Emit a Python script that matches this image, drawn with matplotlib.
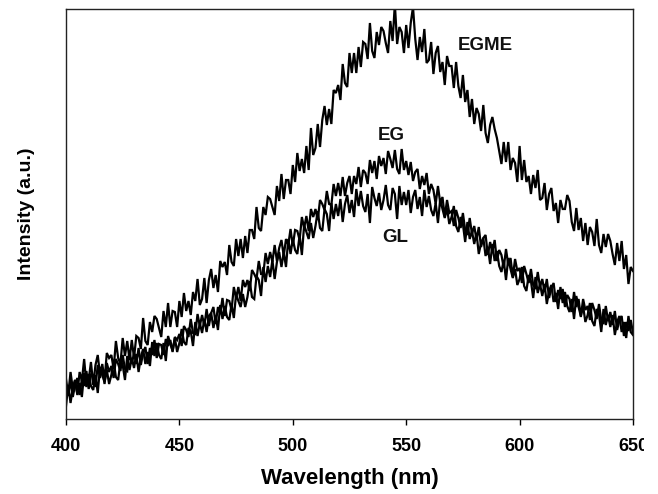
import matplotlib
matplotlib.use("Agg")
import matplotlib.pyplot as plt
from matplotlib.transforms import Bbox, TransformedBbox

plt.rcParams['font.family'] = ['Liberation Sans', 'DejaVu Sans']
plt.rcParams['font.weight'] = 'bold'

# wavelength grid, 400..650 nm in 1 nm steps
wavelength = list(range(400, 651))

egme = [
    40, 24, 47, 30, 39, 25, 47, 38, 60, 34,
    39, 57, 34, 54, 64, 44, 55, 39, 66, 61,
    64, 50, 78, 61, 55, 81, 63, 78, 59, 79,
    61, 83, 81, 70, 101, 78, 74, 97, 87, 103,
    100, 91, 82, 108, 92, 116, 92, 108, 107, 92,
    118, 102, 126, 108, 118, 104, 127, 118, 140, 114,
    120, 141, 116, 139, 150, 131, 144, 127, 158, 152,
    157, 144, 174, 157, 153, 180, 163, 180, 161, 183,
    166, 189, 189, 180, 212, 191, 188, 212, 204, 222,
    220, 212, 204, 233, 218, 245, 220, 239, 239, 225,
    254, 237, 266, 248, 260, 246, 273, 249, 291, 264,
    271, 295, 272, 299, 313, 294, 310, 295, 329, 326,
    334, 319, 355, 336, 332, 366, 346, 366, 346, 372,
    352, 377, 375, 360, 396, 368, 361, 387, 374, 392,
    388, 376, 366, 398, 378, 415, 375, 392, 387, 366,
    394, 371, 396, 412, 380, 359, 382, 367, 390, 356,
    359, 377, 345, 366, 373, 347, 357, 334, 363, 353,
    353, 331, 357, 333, 321, 344, 317, 329, 302, 320,
    295, 311, 305, 288, 314, 286, 276, 294, 302, 290,
    281, 268, 255, 277, 257, 277, 249, 261, 256, 237,
    273, 239, 259, 237, 243, 225, 244, 231, 249, 219,
    221, 236, 209, 225, 231, 208, 216, 196, 219, 210,
    210, 224, 218, 197, 188, 211, 189, 201, 178, 196,
    174, 192, 187, 173, 200, 174, 166, 185, 172, 185,
    178, 165, 154, 176, 158, 178, 150, 164, 135, 152,
    148,
]

eg = [
    34, 23, 39, 22, 34, 41, 24, 40, 33, 48,
    30, 44, 42, 32, 54, 41, 51, 35, 56, 47,
    53, 41, 60, 55, 48, 64, 50, 48, 68, 55,
    66, 55, 71, 54, 66, 72, 55, 71, 64, 79,
    61, 75, 74, 64, 80, 73, 79, 67, 82, 79,
    85, 73, 93, 89, 82, 100, 86, 85, 105, 93,
    104, 93, 110, 93, 106, 112, 95, 112, 105, 121,
    103, 119, 118, 109, 132, 121, 132, 118, 139, 132,
    139, 128, 149, 145, 140, 158, 145, 145, 166, 155,
    167, 157, 174, 158, 171, 179, 163, 180, 174, 190,
    173, 189, 188, 179, 202, 191, 203, 188, 210, 202,
    210, 199, 219, 215, 209, 228, 215, 214, 235, 223,
    236, 223, 242, 223, 236, 243, 225, 243, 235, 252,
    232, 249, 246, 235, 259, 246, 258, 240, 263, 253,
    261, 245, 268, 260, 251, 269, 250, 245, 270, 249,
    258, 244, 257, 238, 247, 250, 230, 243, 234, 246,
    225, 235, 229, 215, 233, 216, 222, 202, 219, 206,
    208, 193, 209, 201, 191, 206, 189, 184, 201, 185,
    193, 179, 192, 172, 181, 184, 164, 177, 167, 179,
    158, 169, 164, 151, 170, 154, 161, 142, 160, 148,
    151, 136, 153, 145, 136, 150, 134, 130, 147, 132,
    140, 127, 140, 121, 131, 136, 117, 129, 120, 130,
    112, 124, 120, 107, 127, 112, 120, 102, 120, 109,
    113, 99, 116, 109, 100, 115, 99, 95, 113, 98,
    107, 94, 108, 89, 99, 103, 83, 97, 88, 99,
    86,
]

gl = [
    13, 34, 16, 31, 39, 24, 36, 22, 46, 32,
    45, 33, 29, 44, 26, 52, 44, 37, 49, 35,
    44, 58, 42, 39, 58, 54, 39, 63, 49, 61,
    51, 65, 47, 62, 70, 55, 67, 53, 77, 63,
    76, 64, 60, 76, 58, 83, 75, 68, 81, 67,
    76, 90, 77, 74, 91, 88, 73, 97, 83, 96,
    86, 100, 87, 103, 106, 91, 103, 89, 114, 100,
    113, 102, 99, 115, 101, 125, 118, 112, 125, 112,
    122, 138, 122, 120, 143, 139, 123, 152, 137, 153,
    142, 159, 140, 157, 167, 152, 167, 152, 180, 165,
    180, 169, 165, 184, 164, 194, 187, 180, 196, 181,
    193, 208, 191, 188, 210, 205, 188, 216, 200, 215,
    203, 220, 197, 215, 224, 206, 219, 202, 230, 213,
    228, 213, 207, 225, 196, 232, 221, 213, 226, 209,
    219, 234, 214, 209, 231, 225, 200, 233, 214, 227,
    214, 229, 206, 222, 229, 210, 222, 203, 229, 212,
    223, 209, 203, 216, 196, 220, 210, 201, 211, 195,
    202, 213, 193, 187, 202, 195, 177, 197, 180, 188,
    175, 186, 165, 176, 181, 163, 172, 155, 175, 158,
    168, 153, 147, 159, 139, 161, 150, 141, 150, 134,
    140, 152, 133, 128, 144, 138, 121, 142, 126, 135,
    123, 135, 115, 128, 134, 117, 126, 110, 132, 116,
    127, 113, 107, 120, 100, 123, 112, 103, 113, 97,
    104, 116, 98, 93, 110, 105, 87, 110, 94, 104,
    92, 104, 84, 97, 103, 87, 97, 81, 103, 87,
    84,
]

series = [egme, eg, gl]
labels = ["EGME", "EG", "GL"]
label_x = [585, 543.5, 545]
label_y = [374, 284, 182]

x_ticks = [400, 450, 500, 550, 600, 650]

fig = plt.figure(figsize=(6.58, 4.94), dpi=100)
ax = fig.add_axes([66/658, 75/494, 567/658, 410/494])

for s in series:
    ax.plot(wavelength, s, color="black", linewidth=1.6,
            solid_joinstyle="miter")

for lab, lx, ly in zip(labels, label_x, label_y):
    ax.text(lx, ly, lab, ha="center", va="center", fontsize=13.5,
            fontweight="bold", color="#111111")

ax.set_xlim(400, 650)
ax.set_ylim(0, 410)
ax.set_xticks(x_ticks)
ax.set_xticklabels([str(t) for t in x_ticks])
ax.set_yticks([])
ax.tick_params(axis="x", direction="out", length=4, width=1,
               labelsize=13, pad=10)
for lbl in ax.get_xticklabels():
    lbl.set_fontweight("bold")
for sp in ax.spines.values():
    sp.set_linewidth(1.0)
    sp.set_color("#222222")

ax.set_xlabel("Wavelength (nm)", fontsize=16, fontweight="bold", labelpad=9)
ax.set_ylabel("Intensity (a.u.)", fontsize=14, fontweight="bold", labelpad=22)

clip = TransformedBbox(Bbox([[0, 0], [644/658, 1]]), fig.transFigure)
for lbl in ax.get_xticklabels():
    lbl.set_clip_box(clip)
    lbl.set_clip_on(True)

fig.savefig("out.png", dpi=100)
